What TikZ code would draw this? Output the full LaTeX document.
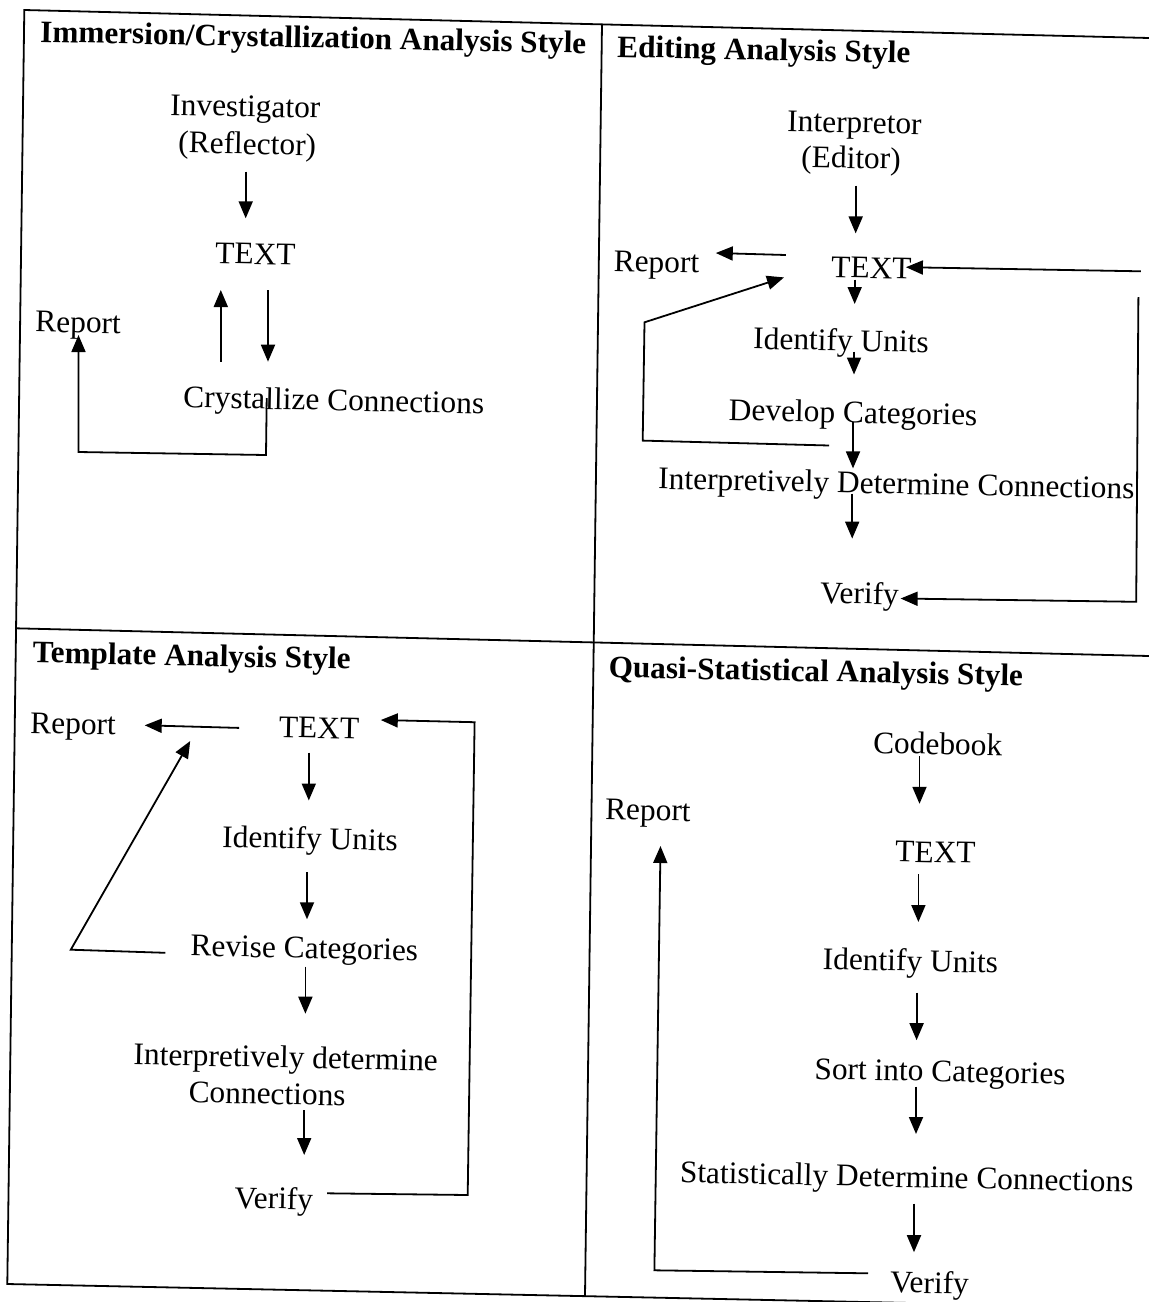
\documentclass[tikz,border=0pt]{standalone}
\usepackage{fontspec}
\setmainfont{Liberation Serif}
\usetikzlibrary{arrows.meta}
\begin{document}
\begin{tikzpicture}[x=1pt,y=-1pt,
  lbl/.style={anchor=base west,inner sep=0pt,font=\fontsize{31.4}{37}\selectfont,rotate=-1.2},
  hdr/.style={lbl,font=\fontsize{31.2}{37}\selectfont\bfseries},
  rule/.style={line width=1.8pt},
  link/.style={line width=1.8pt,line join=miter},
  flow/.style={link,-{Triangle[length=17pt,width=14pt]}}]
\useasboundingbox (0,0) rectangle (1149,1302);
\clip (0,0) rectangle (1149,1302);

% outer frame and quadrant dividers (the sheet is slightly skewed)
\draw[rule] (1149,38) -- (24.3,10) -- (7.3,1284) -- (1149,1308);
\draw[rule] (602,24) -- (585,1296);
\draw[rule] (16,628.3) -- (1149,656);

% ---------------- Immersion/Crystallization ----------------
\node[hdr] (h1) at (40,42) {Immersion/Crystallization Analysis Style};
\node[lbl] (inv) at (170,115) {Investigator};
\node[lbl] (refl) at (178,152.7) {(Reflector)};
\node[lbl] (t1) at (215,263.3) {TEXT};
\node[lbl] (rep1) at (35,331.7) {Report};
\node[lbl] (cc1) at (183,407.3) {Crystallize Connections};

\coordinate (q1a) at (245.7,171.7);  \coordinate (q1b) at (245.7,218.3);
\coordinate (q1c) at (220.8,361.7);  \coordinate (q1d) at (220.8,290);
\coordinate (q1e) at (268,290);      \coordinate (q1f) at (268,361.7);
\coordinate (q1g) at (266.7,398);    \coordinate (q1h) at (266,455);
\coordinate (q1i) at (78.5,452);     \coordinate (q1j) at (78.5,335);
\draw[flow] (q1a) -- (q1b);
\draw[flow] (q1c) -- (q1d);
\draw[flow] (q1e) -- (q1f);
\draw[flow] (q1g) -- (q1h) -- (q1i) -- (q1j);

% ---------------- Editing ----------------
\node[hdr] (h2) at (617,57) {Editing Analysis Style};
\node[lbl] (intp) at (787,131.4) {Interpretor};
\node[lbl] (edit) at (801,167.3) {(Editor)};
\node[lbl] (t2) at (831,277.4) {TEXT};
\node[lbl] (rep2) at (613.4,271.3) {Report};
\node[lbl] (iu2) at (753,348.8) {Identify Units};
\node[lbl] (dc2) at (728.5,420.2) {Develop Categories};
\node[lbl] (idc2) at (658,488.8) {Interpretively Determine Connections};
\node[lbl] (ver2) at (820,603) {Verify};

\coordinate (q2a) at (855.7,185.6);  \coordinate (q2b) at (855.7,233.4);
\coordinate (q2c) at (854.7,279.5);  \coordinate (q2d) at (854.7,304);
\coordinate (q2e) at (785.8,255);    \coordinate (q2f) at (715.8,253);
\coordinate (q2g) at (1140.9,271.3); \coordinate (q2h) at (905.9,267.2);
\coordinate (q2i) at (1138.4,297);   \coordinate (q2j) at (1136.2,601.8);
\coordinate (q2k) at (900.6,598.5);
\coordinate (q2l) at (854,351.7);    \coordinate (q2m) at (854,374.5);
\coordinate (q2n) at (853,422);      \coordinate (q2o) at (853,468.4);
\coordinate (q2p) at (829.2,445.5);  \coordinate (q2q) at (642.7,440.6);
\coordinate (q2r) at (644.5,322.3);  \coordinate (q2s) at (784,277.4);
\coordinate (q2t) at (852.2,493.7);  \coordinate (q2u) at (852.2,538.6);
\draw[flow] (q2a) -- (q2b);
\draw[flow] (q2c) -- (q2d);
\draw[flow] (q2e) -- (q2f);
\draw[flow] (q2g) -- (q2h);
\draw[flow] (q2i) -- (q2j) -- (q2k);
\draw[flow] (q2l) -- (q2m);
\draw[flow] (q2n) -- (q2o);
\draw[flow] (q2p) -- (q2q) -- (q2r) -- (q2s);
\draw[flow] (q2t) -- (q2u);

% ---------------- Template ----------------
\node[hdr] (h3) at (32.5,662.6) {Template Analysis Style};
\node[lbl] (rep3) at (30,733.1) {Report};
\node[lbl] (t3) at (278.6,737.5) {TEXT};
\node[lbl] (iu3) at (222,847) {Identify Units};
\node[lbl] (rc3) at (190.2,955.8) {Revise Categories};
\node[lbl] (idc3a) at (133.2,1064.5) {Interpretively determine};
\node[lbl] (idc3b) at (188.3,1102.5) {Connections};
\node[lbl] (ver3) at (234.2,1208) {Verify};

\coordinate (q3a) at (239.2,727.9);  \coordinate (q3b) at (144.7,725.3);
\coordinate (q3c) at (327.2,1193.3); \coordinate (q3d) at (467.7,1195);
\coordinate (q3e) at (474.6,722.2);  \coordinate (q3f) at (380.8,720);
\coordinate (q3g) at (165.3,952.8);  \coordinate (q3h) at (70.8,949.7);
\coordinate (q3i) at (190.2,741);
\coordinate (q3j) at (308.8,752.7);  \coordinate (q3k) at (308.8,800.5);
\coordinate (q3l) at (307,872.3);    \coordinate (q3m) at (307,919.3);
\coordinate (q3n) at (305.4,966.7);  \coordinate (q3o) at (305.4,1013.7);
\coordinate (q3p) at (304.2,1110);   \coordinate (q3q) at (304.2,1155);
\draw[flow] (q3a) -- (q3b);
\draw[flow] (q3c) -- (q3d) -- (q3e) -- (q3f);
\draw[flow] (q3g) -- (q3h) -- (q3i);
\draw[flow] (q3j) -- (q3k);
\draw[flow] (q3l) -- (q3m);
\draw[flow] (q3n) -- (q3o);
\draw[flow] (q3p) -- (q3q);

% ---------------- Quasi-Statistical ----------------
\node[hdr] (h4) at (608.4,677.2) {Quasi-Statistical Analysis Style};
\node[lbl] (cb4) at (872.8,753.2) {Codebook};
\node[lbl] (rep4) at (604.8,819.4) {Report};
\node[lbl] (t4) at (895,861.7) {TEXT};
\node[lbl] (iu4) at (822.4,969.3) {Identify Units};
\node[lbl] (sc4) at (814.1,1079) {Sort into Categories};
\node[lbl] (sdc4) at (679.6,1182.5) {Statistically Determine Connections};
\node[lbl] (ver4) at (890,1292.5) {Verify};

\coordinate (q4a) at (919.5,756);    \coordinate (q4b) at (919.5,803.8);
\coordinate (q4c) at (918.4,874.3);  \coordinate (q4d) at (918.4,922);
\coordinate (q4e) at (916.6,992.5);  \coordinate (q4f) at (916.6,1040.2);
\coordinate (q4g) at (916,1086.7);   \coordinate (q4h) at (916,1134);
\coordinate (q4i) at (914,1203.6);   \coordinate (q4j) at (914,1252.2);
\coordinate (q4k) at (868,1273.3);   \coordinate (q4l) at (654.4,1270.3);
\coordinate (q4m) at (660.5,846);
\draw[flow] (q4a) -- (q4b);
\draw[flow] (q4c) -- (q4d);
\draw[flow] (q4e) -- (q4f);
\draw[flow] (q4g) -- (q4h);
\draw[flow] (q4i) -- (q4j);
\draw[flow] (q4k) -- (q4l) -- (q4m);
\end{tikzpicture}
\end{document}
